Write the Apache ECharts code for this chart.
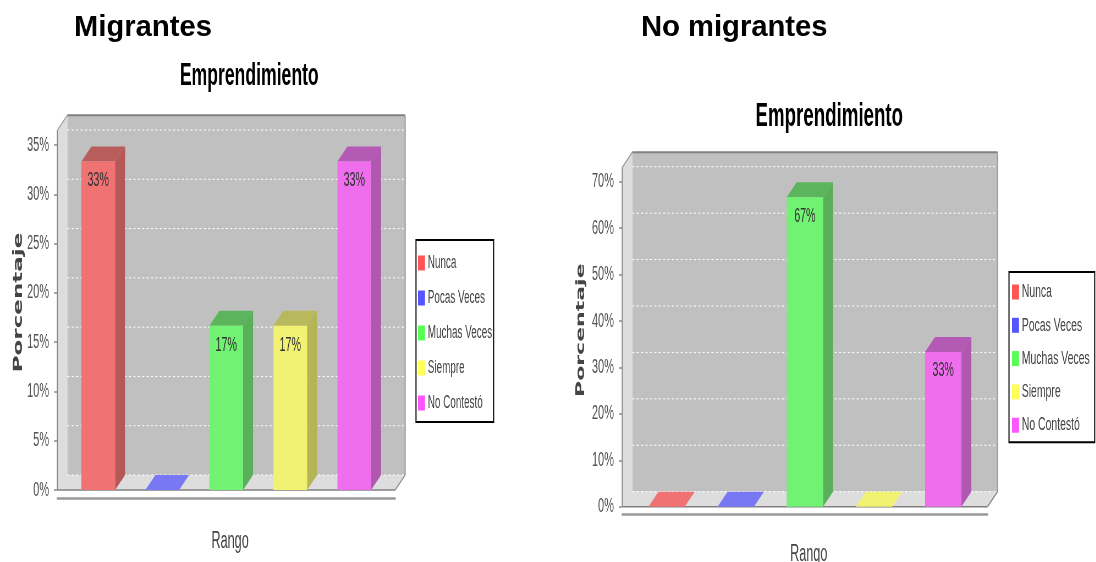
<!DOCTYPE html>
<html><head><meta charset="utf-8">
<style>html,body{margin:0;padding:0;background:#fff;overflow:hidden}#w{width:1096px;height:562px;overflow:hidden}#c{height:562px;transform-origin:0 0}</style>
<script src="https://cdn.jsdelivr.net/npm/echarts@6/dist/echarts.min.js"></script>
</head><body><div id="w"><div id="c"></div></div>
<script>
const categories = ['Nunca','Pocas Veces','Muchas Veces','Siempre','No Contestó'];
const migrantes = [33.33,0,16.67,16.67,33.33];
const noMigrantes = [0,0,66.67,0,33.33];
const ticksLeft = [0,5,10,15,20,25,30,35];
const ticksRight = [0,10,20,30,40,50,60,70];
const headings = ['Migrantes','No migrantes'];
const chartTitle = 'Emprendimiento';
const frontColors = ['#f07272','#7878f4','#72f272','#f2f272','#ee6eee'];
const topColors = ['#b85c5c','#5c5cb8','#5cb55c','#b8b85c','#b45ab4'];
const sideColors = ['#b55858','#5858b5','#5ab05a','#b5b558','#b058b0'];
const legendColors = ['#ff5555','#5555ff','#55ff55','#ffff55','#ff55ff'];

// The reference was squeezed horizontally: draw wide, then squeeze the whole canvas.
const K = 0.55;
const X = v => v/K;
const SANS = '"Liberation Sans",sans-serif';
const DX = X(10), DY = 15;

const el = document.getElementById('c');
el.style.width = X(1096)+'px';
el.style.transform = 'scaleX('+K+')';

function wallItem(ticks, topVal){
  return function(params, api){
    const p0 = api.coord([0,0]), size = api.size([1,0])[0];
    const x0 = p0[0]-size/2, x1 = p0[0]+size/2, yb = p0[1];
    const yt = api.coord([0,topVal])[1];
    const kids = [];
    const poly = (pts,fill)=>kids.push({type:'polygon',shape:{points:pts},style:{fill:fill}});
    const line = (a,b,stroke,lw,dash)=>kids.push({type:'line',shape:{x1:a[0],y1:a[1],x2:b[0],y2:b[1]},style:{stroke:stroke,lineWidth:lw,lineDash:dash||null}});
    poly([[x0+DX,yb-DY],[x1+DX,yb-DY],[x1+DX,yt-DY],[x0+DX,yt-DY]],'#c0c0c0');
    poly([[x0,yb],[x0+DX,yb-DY],[x0+DX,yt-DY],[x0,yt]],'#dddddd');
    poly([[x0,yb],[x1,yb],[x1+DX,yb-DY],[x0+DX,yb-DY]],'#dddddd');
    ticks.forEach(t=>{
      const y = api.coord([0,t])[1]-DY;
      line([x0+DX,y],[x1+DX,y],'#ffffff',1,[4,4]);
    });
    line([x0,yb],[x0,yt],'#888888',2);
    line([x0,yt],[x0+DX,yt-DY],'#999999',1.5);
    line([x0+DX,yt-DY],[x1+DX,yt-DY],'#808080',2);
    line([x1+DX,yt-DY],[x1+DX,yb-DY],'#999999',2);
    line([x1+DX,yb-DY],[x1,yb],'#808080',1.5);
    line([x0,yb],[x1,yb],'#808080',1.5);
    return {type:'group',children:kids};
  };
}
function faceItem(barW,pitch){
  return function(params, api){
    const i = api.value(2), v = api.value(1);
    const c = api.coord([0,0]);
    const xl = c[0]+(i-2)*pitch-barW/2, xr = xl+barW, yb = c[1];
    const yt = api.coord([0,v])[1];
    const kids = [{type:'polygon',shape:{points:[[xl,yt],[xr,yt],[xr+DX,yt-DY],[xl+DX,yt-DY]]},
      style:{fill: v===0?frontColors[i]:topColors[i]}}];
    if(v!==0) kids.push({type:'polygon',shape:{points:[[xr,yb],[xr+DX,yb-DY],[xr+DX,yt-DY],[xr,yt]]},style:{fill:sideColors[i]}});
    return {type:'group',children:kids};
  };
}
function panel(idx, values, ticks, topVal, barW, pitch, gap, labelDist){
  const out = [{type:'custom',name:'paredes'+idx,xAxisIndex:idx,yAxisIndex:idx,z:1,clip:false,silent:true,
      renderItem:wallItem(ticks,topVal),data:[[0,0]],encode:{x:0,y:1}},
    {type:'custom',name:'caras'+idx,xAxisIndex:idx,yAxisIndex:idx,z:3,clip:false,silent:true,
      renderItem:faceItem(barW,pitch),data:values.map((v,i)=>[0,v,i]),encode:{x:0,y:1}}];
  categories.forEach((name,i)=>out.push({type:'bar',name:name,xAxisIndex:idx,yAxisIndex:idx,z:3,
    barWidth:barW,barGap:gap,data:[values[i]],itemStyle:{color:frontColors[i]},
    label:{show:values[i]>0,position:'insideTop',distance:labelDist,fontFamily:SANS,fontSize:19.5,color:'#333',
      formatter:p=>Math.round(p.value)+'%'}}));
  return out;
}
function xAxis(idx,offset,nameGap){
  return {type:'category',gridIndex:idx,data:[''],offset:offset,
    axisLine:{onZero:false,lineStyle:{color:'#999',width:2.5}},axisTick:{alignWithLabel:true,length:3,lineStyle:{color:'#999',width:1.5}},axisLabel:{show:false},
    name:'Rango',nameLocation:'middle',nameGap:nameGap,nameTextStyle:{fontFamily:SANS,fontSize:23,color:'#444',padding:[0,0,0,14]}};
}
function yAxis(idx,ticks,nameGap,namePad,nameSize){
  return {type:'value',gridIndex:idx,min:0,max:ticks[ticks.length-1],interval:ticks[1]-ticks[0],
    splitLine:{show:false},axisLine:{show:false},
    axisTick:{show:true,length:6,lineStyle:{color:'#888',width:1.5}},
    axisLabel:{margin:15,fontFamily:SANS,fontSize:20,color:'#555',formatter:'{value}%'},
    name:'Porcentaje',nameLocation:'middle',nameRotate:90,nameGap:nameGap,
    nameTextStyle:{fontFamily:'"DejaVu Sans"',fontWeight:'bold',fontSize:nameSize,color:'#444',padding:[0,0,0,namePad]}};
}
function legend(left,top,gap,fontSize,pad){
  return {orient:'vertical',left:X(left),top:top,padding:pad,itemGap:gap,itemWidth:X(7),itemHeight:15,
    backgroundColor:'#fff',borderColor:'#000',borderWidth:2,selectedMode:false,
    textStyle:{fontFamily:SANS,fontSize:fontSize,color:'#444'},
    data:categories.map((n,i)=>({name:n,icon:'rect',itemStyle:{color:legendColors[i]}}))};
}
function heading(text,x){
  return {type:'text',x:X(x),y:28,scaleX:1/K,z:10,
    style:{text:text,fontFamily:SANS,fontSize:29.2,fontWeight:'bold',fill:'#000',align:'left',verticalAlign:'middle'}};
}
function title(text,x,top,size){
  return {text:text,left:X(x),top:top,textAlign:'center',textStyle:{fontFamily:SANS,fontWeight:'bold',fontSize:size,color:'#000'}};
}
const chart = echarts.init(el,null,{renderer:'canvas'});
chart.setOption({
  animation:false,backgroundColor:'#fff',
  title:[title(chartTitle,246.5,55,32),title(chartTitle,826.5,95,34)],
  graphic:[heading(headings[0],74),heading(headings[1],641)],
  grid:[
    {outerBoundsMode:'none',left:X(57.3),right:X(1096-395),top:145,bottom:72},
    {outerBoundsMode:'none',left:X(622.2),right:X(1096-987.4),top:181.7,bottom:55.3}
  ],
  xAxis:[xAxis(0,8,32),xAxis(1,7.5,28.5)],
  yAxis:[yAxis(0,ticksLeft,57,30,23),yAxis(1,ticksRight,64,28,22)],
  legend:[legend(416,240,17,18,[14,X(1.5),10,X(2)]),legend(1009,272,14.3,19,[10.5,X(5),7.5,X(3)])],
  series:[].concat(
    panel(0,migrantes,ticksLeft,36.5,X(33.7),X(64),'90%',9.5),
    panel(1,noMigrantes,ticksRight,73.1,X(36.3),X(69.15),'90.5%',9))
});
</script></body></html>
